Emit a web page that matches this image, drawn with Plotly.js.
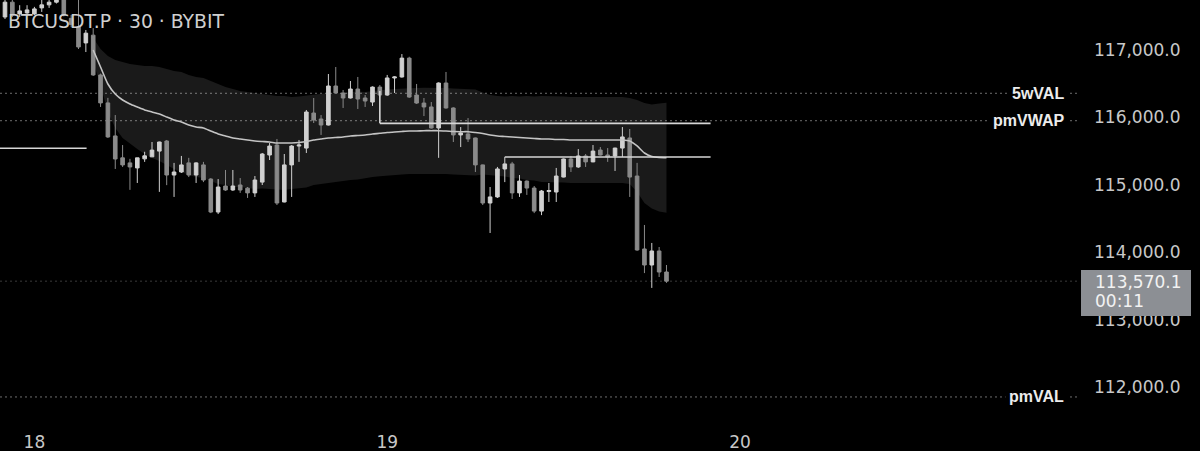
<!DOCTYPE html>
<html><head><meta charset="utf-8">
<script src="https://cdn.plot.ly/plotly-3.0.1.min.js"></script>
<style>html,body{margin:0;padding:0;background:#000;overflow:hidden}#chart{width:1200px;height:451px}</style>
</head><body><div id="chart"></div>
<script>
// ---------- data ----------
const symbolTitle = 'BTCUSDT.P · 30 · BYBIT';
const firstBar = '2025-08-17T22:00:00Z';   // 30-minute bars
const barMinutes = 30;

const opens  = [117490,117710,117535,117550,117535,117625,117670,117710,117780,117470,
                117340,117105,117220,116630,116215,115725,115400,115325,115250,115385,
                115415,115500,115650,115145,115190,115325,115145,115295,115085,114596,
                114982,114923,114997,114950,114880,115040,115442,115590,114745,115295,
                115575,115545,116065,115976,115887,116466,116362,116288,116421,116288,
                116228,116450,116332,116585,116600,116880,116332,116213,116155,115843,
                116510,116140,115740,115755,115695,115295,114730,114820,115235,115310,
                114880,115055,114952,114610,114900,114893,115115,115383,115265,115428,
                115340,115516,115442,115428,115545,115695,115130,114048,113810,114018,
                113706];
const highs  = [117790,117780,117665,117665,117640,117745,117760,117800,117830,117520,
                117760,117297,117325,116650,116290,116035,115590,115385,115400,115490,
                115635,115640,115665,115325,115428,115400,115335,115340,115100,115085,
                115220,115220,115100,114967,115130,115472,115620,115680,115457,115590,
                115665,116110,116288,116035,116644,116748,116407,116540,116600,116332,
                116460,116480,116630,116610,116940,116900,116496,116288,116228,116520,
                116674,116150,115857,115990,115700,115300,114967,115265,115413,115340,
                115145,115065,114982,114923,115027,115250,115390,115428,115530,115457,
                115590,115560,115545,115550,115857,115828,115325,114404,114137,114077,
                113810];
const lows   = [117460,117490,117490,117535,117520,117565,117625,117690,117500,117340,
                117015,116970,116615,116155,115695,115235,115265,114925,115027,115340,
                115415,114895,114995,114820,115175,115115,115027,115040,114580,114566,
                114910,114910,114880,114805,114820,114997,115368,114700,114740,114820,
                115340,115472,115917,115740,115880,116360,116140,116280,116125,116155,
                116170,116300,116320,116362,116590,116290,116200,116020,115835,115400,
                116130,115635,115560,115635,115190,114700,114285,114805,115040,114790,
                114820,114850,114580,114550,114745,114745,115110,115190,115250,115265,
                115335,115435,115340,115205,115413,114820,114020,113690,113470,113632,
                113545];
const closes = [117710,117520,117580,117595,117610,117670,117710,117760,117520,117380,
                117045,117250,116630,116215,115710,115383,115295,115265,115400,115430,
                115515,115635,115145,115190,115295,115145,115325,115071,114596,114967,
                114923,114982,114923,114880,115071,115457,115575,114730,115295,115575,
                115590,116080,115961,115887,116466,116362,116288,116421,116273,116243,
                116450,116332,116585,116600,116880,116302,116213,116155,115843,116510,
                116140,115740,115770,115680,115295,114730,114820,115235,115310,114880,
                115055,114952,114610,114908,114915,115130,115383,115265,115428,115340,
                115500,115442,115413,115545,115710,115115,114033,113810,114018,113706,
                113570.1];

// anchored VWAP and its band, starting at bar 12
const vwapStartBar = 12;
const vwap      = [117000,116748,116496,116347,116258,116199,116154,116110,116080,116050,
                   116006,115961,115932,115887,115858,115843,115798,115754,115724,115694,
                   115680,115665,115650,115642,115635,115620,115620,115620,115628,115642,
                   115665,115680,115694,115702,115709,115724,115731,115739,115754,115764,
                   115776,115783,115791,115798,115798,115803,115803,115803,115798,115791,
                   115788,115788,115776,115761,115739,115724,115717,115709,115702,115694,
                   115687,115680,115680,115672,115672,115665,115665,115665,115665,115665,
                   115665,115665,115665,115650,115576,115472,115420,115405,115402];
const bandUpper = [117178,117015,116911,116851,116822,116792,116777,116763,116763,116747,
                   116718,116688,116674,116629,116600,116585,116540,116496,116451,116421,
                   116392,116377,116362,116339,116332,116317,116317,116303,116311,116325,
                   116333,116348,116362,116355,116362,116377,116384,116377,116392,116402,
                   116414,116421,116429,116436,116436,116441,116441,116441,116436,116429,
                   116426,116426,116414,116369,116332,116317,116310,116317,116310,116317,
                   116310,116318,116318,116310,116310,116303,116303,116303,116303,116303,
                   116303,116303,116303,116288,116259,116214,116192,116206,116218];
const bandLower = [116822,116481,116081,115843,115694,115606,115531,115457,115397,115353,
                   115294,115234,115190,115145,115116,115101,115056,115012,114997,114967,
                   114968,114953,114938,114945,114938,114923,114923,114937,114945,114959,
                   114997,115012,115026,115049,115056,115071,115078,115101,115116,115126,
                   115138,115145,115153,115160,115160,115165,115165,115165,115160,115153,
                   115150,115150,115138,115153,115146,115131,115124,115101,115094,115071,
                   115064,115042,115042,115034,115034,115027,115027,115027,115027,115027,
                   115027,115027,115027,115012,114893,114730,114648,114604,114586];

// dotted key levels (labelled) and the last price
const levelNames  = ['5wVAL', 'pmVWAP', 'pmVAL'];
const levelPrices = [116358, 115951, 111852];
const lastPrice = 113570.1;
const countdown = '00:11';

// hand-drawn horizontal rays: price, from bar, to bar
const rayPrices = [115542, 115912, 115412];
const rayFrom   = [-1, 51, 68];
const rayTo     = [11.1, 96, 96];
const connectorBar = 51, connectorLow = 115912, connectorHigh = 116392;

// ---------- helpers ----------
const T0 = Date.parse(firstBar);
const BAR_MS = barMinutes * 60 * 1000;
function barTime(k) { return new Date(T0 + k * BAR_MS).toISOString().replace('T', ' ').replace('Z', ''); }
const candleTimes = opens.map((_, k) => barTime(k));
const vwapTimes = vwap.map((_, i) => barTime(vwapStartBar + i));

const priceTop = 117742, priceBottom = 111436;
const xRange = [barTime(-0.68), barTime(146.26)];
const PLOT_W = 1080, PLOT_H = 425;

const UP = '#d0d0d0', DOWN = '#8a8a8a';

const traces = [
  { type: 'scatter', mode: 'lines', x: vwapTimes, y: bandUpper, line: { width: 0 }, hoverinfo: 'skip', showlegend: false, xaxis: 'x', yaxis: 'y' },
  { type: 'scatter', mode: 'lines', x: vwapTimes, y: bandLower, line: { width: 0 }, fill: 'tonexty', fillcolor: 'rgba(255,255,255,0.10)', hoverinfo: 'skip', showlegend: false, xaxis: 'x', yaxis: 'y' },
  { type: 'candlestick', x: candleTimes, open: opens, high: highs, low: lows, close: closes,
    increasing: { line: { color: UP, width: 1 }, fillcolor: UP },
    decreasing: { line: { color: DOWN, width: 1 }, fillcolor: DOWN },
    whiskerwidth: 0, hoverinfo: 'skip', showlegend: false, xaxis: 'x2', yaxis: 'y2' },
  { type: 'scatter', mode: 'lines', x: vwapTimes, y: vwap, line: { color: '#c4c4c4', width: 1.6, shape: 'spline', smoothing: 0.6 }, hoverinfo: 'skip', showlegend: false, xaxis: 'x2', yaxis: 'y2' }
];

const shapes = [];
levelPrices.forEach(p => shapes.push({ type: 'line', xref: 'paper', x0: 0, x1: 1, yref: 'y', y0: p, y1: p, layer: 'below', line: { color: '#6e6e6e', width: 1, dash: '2px,3px' } }));
shapes.push({ type: 'line', xref: 'paper', x0: 0, x1: 1, yref: 'y', y0: lastPrice, y1: lastPrice, layer: 'below', line: { color: '#3a3a3a', width: 1, dash: '2px,3px' } });
rayPrices.forEach((p, i) => shapes.push({ type: 'line', xref: 'x', yref: 'y', x0: barTime(rayFrom[i]), x1: barTime(rayTo[i]), y0: p, y1: p, layer: 'above', line: { color: '#d6d6d6', width: 1.6 } }));
shapes.push({ type: 'line', xref: 'x', yref: 'y', x0: barTime(connectorBar), x1: barTime(connectorBar), y0: connectorLow, y1: connectorHigh, layer: 'above', line: { color: '#d6d6d6', width: 1.6 } });
// last-price tag on the price scale
function pyToPaper(py) { return 1 - py / PLOT_H; }
shapes.push({ type: 'rect', xref: 'paper', yref: 'paper', x0: 1081 / PLOT_W, x1: 1191 / PLOT_W, y0: pyToPaper(316), y1: pyToPaper(270), fillcolor: '#8c8f94', line: { width: 0 }, layer: 'above' });

const annotations = [
  { text: symbolTitle, xref: 'paper', yref: 'paper', x: 6 / PLOT_W, y: pyToPaper(21.5), xanchor: 'left', yanchor: 'middle', showarrow: false, font: { family: 'DejaVu Sans', size: 18.8, color: '#cfcfcf' } }
];
levelNames.forEach((n, i) => annotations.push({ text: '<b>' + n + '</b>', xref: 'paper', yref: 'y', x: 1068 / PLOT_W, y: levelPrices[i], xanchor: 'right', yanchor: 'middle', showarrow: false, bgcolor: '#000', borderpad: 3, font: { family: 'Liberation Sans', size: 16, color: '#ececec' } }));
const lastPriceText = lastPrice.toLocaleString('en-US', { minimumFractionDigits: 1, maximumFractionDigits: 1 });
annotations.push({ text: lastPriceText, xref: 'paper', yref: 'paper', x: 1093 / PLOT_W, y: pyToPaper(282), xanchor: 'left', yanchor: 'middle', showarrow: false, font: { family: 'DejaVu Sans', size: 17, color: '#f2f2f2' } });
annotations.push({ text: countdown, xref: 'paper', yref: 'paper', x: 1093 / PLOT_W, y: pyToPaper(301), xanchor: 'left', yanchor: 'middle', showarrow: false, font: { family: 'DejaVu Sans', size: 17, color: '#f2f2f2' } });

const tickFont = { family: 'DejaVu Sans', size: 17, color: '#c8c8c8' };
const layout = {
  width: 1200, height: 451,
  margin: { l: 0, r: 120, t: 0, b: 26 },
  paper_bgcolor: '#000', plot_bgcolor: '#000',
  showlegend: false, hovermode: false, dragmode: false,
  xaxis: { type: 'date', range: xRange, rangeslider: { visible: false }, tickformat: '%d', dtick: 86400000, tick0: '2025-08-18 00:00',
           showgrid: false, zeroline: false, showline: false, ticks: '', tickfont: tickFont, ticklabelstandoff: 5 },
  yaxis: { side: 'right', range: [priceBottom, priceTop], dtick: 1000, tick0: 0, tickformat: ',.1f',
           showgrid: false, zeroline: false, showline: false, ticks: '', tickfont: tickFont, ticklabelstandoff: 13 },
  xaxis2: { type: 'date', overlaying: 'x', range: xRange, visible: false, rangeslider: { visible: false } },
  yaxis2: { overlaying: 'y', side: 'right', range: [priceBottom, priceTop], visible: false },
  shapes: shapes, annotations: annotations
};
Plotly.newPlot('chart', traces, layout, { displayModeBar: false, staticPlot: true });
</script></body></html>
